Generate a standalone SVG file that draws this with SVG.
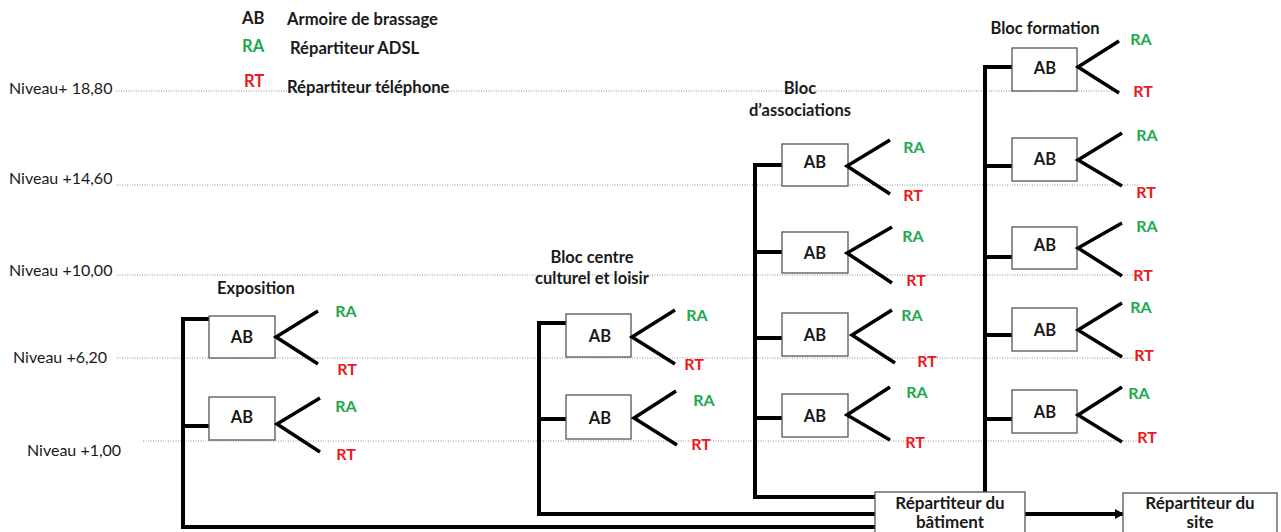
<svg xmlns="http://www.w3.org/2000/svg" width="1281" height="532" viewBox="0 0 1281 532">
<defs>
<style>
text{font-family:Lato,"Liberation Sans",Arial,sans-serif;}
.lvl{font-size:16px;fill:#1a1a1a;}
.dot{stroke:#8f8f8f;stroke-width:1;stroke-dasharray:1 1.5;fill:none;}
.lg{font-size:16.6px;font-weight:bold;fill:#1a1a1a;}
.ttl{font-size:16.5px;font-weight:bold;fill:#1a1a1a;text-anchor:middle;}
.box{fill:#fff;stroke:#555;stroke-width:1.3;}
.ab{font-size:16.5px;font-weight:bold;fill:#1a1a1a;text-anchor:middle;}
.br{fill:none;stroke:#000;stroke-width:3.5;stroke-linecap:butt;}
.ra{font-size:16px;font-weight:bold;fill:#22a94d;text-anchor:middle;}
.rt{font-size:16px;font-weight:bold;fill:#e8191e;text-anchor:middle;}
.bus{fill:none;stroke:#000;stroke-width:4;stroke-linejoin:miter;}
.bt{font-size:17px;font-weight:bold;fill:#1a1a1a;text-anchor:middle;}
</style>
<marker id="arr" markerWidth="10" markerHeight="10" refX="8" refY="5" orient="auto" markerUnits="userSpaceOnUse">
<path d="M0,0 L9,5 L0,10 Z" fill="#000"/>
</marker>
</defs>
<rect width="1281" height="532" fill="#fff"/>

<g id="levels">
<text class="lvl" x="9" y="94">Niveau+ 18,80</text>
<line class="dot" x1="116" y1="91" x2="1120" y2="91"/>
<text class="lvl" x="9" y="184">Niveau +14,60</text>
<line class="dot" x1="117" y1="185" x2="1140" y2="185"/>
<text class="lvl" x="9" y="276">Niveau +10,00</text>
<line class="dot" x1="117" y1="275" x2="1140" y2="275"/>
<text class="lvl" x="13" y="363">Niveau +6,20</text>
<line class="dot" x1="117" y1="358" x2="1140" y2="358"/>
<text class="lvl" x="27" y="456">Niveau +1,00</text>
<line class="dot" x1="143" y1="441" x2="1140" y2="441"/>
</g>

<g id="legend">
<text class="lg" x="242" y="24">AB</text>
<text class="lg" x="287" y="25">Armoire de brassage</text>
<text class="lg" x="242" y="52" style="fill:#22a94d">RA</text>
<text class="lg" x="290" y="54">Répartiteur ADSL</text>
<text class="lg" x="244" y="87" style="fill:#e8191e">RT</text>
<text class="lg" x="287" y="93">Répartiteur téléphone</text>
</g>

<g id="titles">
<text class="ttl" x="256" y="294">Exposition</text>
<text class="ttl" x="592" y="263">Bloc centre</text>
<text class="ttl" x="592" y="284">culturel et loisir</text>
<text class="ttl" x="800" y="94">Bloc</text>
<text class="ttl" x="800" y="116">d’associations</text>
<text class="ttl" x="1045" y="34">Bloc formation</text>
</g>

<g id="connectors">
<path class="bus" d="M209,319 H183 V527 H875"/>
<path class="bus" d="M183,426 H211"/>
<path class="bus" d="M566,323 H539 V514 H875"/>
<path class="bus" d="M539,419 H566"/>
<path class="bus" d="M782,165 H755 V497 H875"/>
<path class="bus" d="M755,252 H782 M755,338 H782 M755,418 H782"/>
<path class="bus" d="M1012,67 H985 V493"/>
<path class="bus" d="M985,166 H1012 M985,257 H1012 M985,335 H1012 M985,419 H1012"/>
<line x1="1025" y1="514" x2="1123" y2="514" stroke="#000" stroke-width="4" marker-end="url(#arr)"/>
</g>

<g id="exp-ab1">
<rect class="box" x="209" y="316" width="66" height="42"/>
<text class="ab" x="242" y="343">AB</text>
<path class="br" d="M318,311 L276,337 L318,364"/>
<text class="ra" x="346" y="317">RA</text>
<text class="rt" x="347" y="375">RT</text>
</g>
<g id="exp-ab2">
<rect class="box" x="209" y="397" width="66" height="43"/>
<text class="ab" x="242" y="423">AB</text>
<path class="br" d="M320,398 L277,424 L320,452"/>
<text class="ra" x="346" y="412">RA</text>
<text class="rt" x="346" y="460">RT</text>
</g>

<g id="cul-ab1">
<rect class="box" x="566" y="314" width="65" height="43"/>
<text class="ab" x="600" y="342">AB</text>
<path class="br" d="M675,310 L632,337 L675,364"/>
<text class="ra" x="697" y="321">RA</text>
<text class="rt" x="694" y="370">RT</text>
</g>
<g id="cul-ab2">
<rect class="box" x="566" y="395" width="65" height="44"/>
<text class="ab" x="600" y="424">AB</text>
<path class="br" d="M676,391 L634,418 L677,445"/>
<text class="ra" x="704" y="406">RA</text>
<text class="rt" x="701" y="450">RT</text>
</g>

<g id="ass-ab1">
<rect class="box" x="782" y="144" width="66" height="42"/>
<text class="ab" x="815" y="168">AB</text>
<path class="br" d="M890,140 L847,166 L890,194"/>
<text class="ra" x="914" y="153">RA</text>
<text class="rt" x="913" y="201">RT</text>
</g>
<g id="ass-ab2">
<rect class="box" x="782" y="232" width="66" height="41"/>
<text class="ab" x="815" y="259">AB</text>
<path class="br" d="M892,227 L847,253 L892,283"/>
<text class="ra" x="913" y="242">RA</text>
<text class="rt" x="916" y="286">RT</text>
</g>
<g id="ass-ab3">
<rect class="box" x="782" y="313" width="66" height="43"/>
<text class="ab" x="815" y="341">AB</text>
<path class="br" d="M892,310 L852,335 L895,363"/>
<text class="ra" x="912" y="321">RA</text>
<text class="rt" x="927" y="367">RT</text>
</g>
<g id="ass-ab4">
<rect class="box" x="782" y="394" width="66" height="43"/>
<text class="ab" x="815" y="422">AB</text>
<path class="br" d="M890,387 L847,415 L890,440"/>
<text class="ra" x="917" y="398">RA</text>
<text class="rt" x="915" y="448">RT</text>
</g>

<g id="for-ab1">
<rect class="box" x="1012" y="48" width="65" height="43"/>
<text class="ab" x="1045" y="74">AB</text>
<path class="br" d="M1119,41 L1078,67 L1119,93"/>
<text class="ra" x="1141" y="45">RA</text>
<text class="rt" x="1143" y="97">RT</text>
</g>
<g id="for-ab2">
<rect class="box" x="1012" y="138" width="65" height="43"/>
<text class="ab" x="1045" y="165">AB</text>
<path class="br" d="M1122,133 L1078,160 L1122,186"/>
<text class="ra" x="1147" y="141">RA</text>
<text class="rt" x="1146" y="198">RT</text>
</g>
<g id="for-ab3">
<rect class="box" x="1012" y="227" width="65" height="42"/>
<text class="ab" x="1045" y="251">AB</text>
<path class="br" d="M1122,223 L1078,248 L1122,276"/>
<text class="ra" x="1147" y="232">RA</text>
<text class="rt" x="1143" y="281">RT</text>
</g>
<g id="for-ab4">
<rect class="box" x="1012" y="308" width="65" height="43"/>
<text class="ab" x="1045" y="336">AB</text>
<path class="br" d="M1122,303 L1078,330 L1122,357"/>
<text class="ra" x="1141" y="313">RA</text>
<text class="rt" x="1144" y="361">RT</text>
</g>
<g id="for-ab5">
<rect class="box" x="1012" y="390" width="65" height="43"/>
<text class="ab" x="1045" y="418">AB</text>
<path class="br" d="M1122,387 L1078,415 L1122,442"/>
<text class="ra" x="1139" y="399">RA</text>
<text class="rt" x="1147" y="443">RT</text>
</g>

<g id="rep-batiment">
<rect class="box" x="875" y="492" width="150" height="60"/>
<text class="bt" x="950" y="509">Répartiteur du</text>
<text class="bt" x="950" y="528">bâtiment</text>
</g>
<g id="rep-site">
<rect class="box" x="1123" y="493" width="154" height="60"/>
<text class="bt" x="1200" y="509">Répartiteur du</text>
<text class="bt" x="1200" y="528">site</text>
</g>
</svg>
